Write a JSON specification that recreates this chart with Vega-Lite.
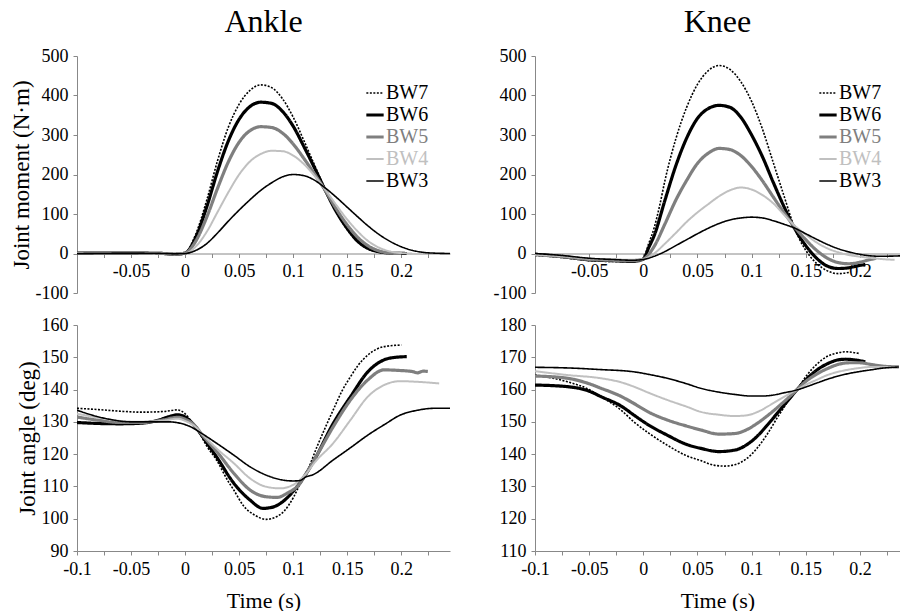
{
  "$schema": "https://vega.github.io/schema/vega-lite/v6.json",
  "background": "white",
  "padding": {"left": 10, "top": 6, "right": 0, "bottom": 0},
  "config": {
    "font": "Liberation Serif",
    "view": {"stroke": null},
    "axis": {"labelFont": "Liberation Serif", "labelFontSize": 18, "labelColor": "black", "titleFont": "Liberation Serif", "titleFontSize": 23, "titleFontWeight": "normal", "titleColor": "black", "domainColor": "#888888", "tickColor": "#888888", "grid": false, "tickSize": 4, "labelPadding": 5, "labelFlush": false, "labelOverlap": false},
    "title": {"font": "Liberation Serif", "fontSize": 32, "fontWeight": "normal", "color": "black", "offset": 8},
    "legend": {"title": null, "labelFont": "Liberation Serif", "labelFontSize": 20, "symbolType": "stroke", "symbolSize": 300, "rowPadding": 2, "labelOffset": 1, "labelColor": {"expr": "datum.label == 'BW5' ? '#7f7f7f' : datum.label == 'BW4' ? '#c0c0c0' : '#000000'"}, "symbolStrokeWidth": {"expr": "datum.label == 'BW6' || datum.label == 'BW5' ? 3.2 : datum.label == 'BW4' ? 2 : 1.6"}}
  },
  "datasets": {
    "am": [
      {"s":"BW7","t":-0.1,"v":2},{"s":"BW7","t":-0.05,"v":2},{"s":"BW7","t":-0.02,"v":1},{"s":"BW7","t":-0.01,"v":-3},{"s":"BW7","t":0,"v":2},{"s":"BW7","t":0.01,"v":50},{"s":"BW7","t":0.02,"v":135},{"s":"BW7","t":0.03,"v":235},{"s":"BW7","t":0.04,"v":320},{"s":"BW7","t":0.05,"v":378},{"s":"BW7","t":0.06,"v":413},{"s":"BW7","t":0.07,"v":427},{"s":"BW7","t":0.08,"v":420},{"s":"BW7","t":0.09,"v":392},{"s":"BW7","t":0.1,"v":345},{"s":"BW7","t":0.11,"v":285},{"s":"BW7","t":0.12,"v":222},{"s":"BW7","t":0.13,"v":160},{"s":"BW7","t":0.14,"v":105},{"s":"BW7","t":0.15,"v":60},{"s":"BW7","t":0.16,"v":28},{"s":"BW7","t":0.17,"v":10},{"s":"BW7","t":0.18,"v":3},{"s":"BW7","t":0.19,"v":0},
      {"s":"BW6","t":-0.1,"v":1},{"s":"BW6","t":-0.05,"v":1},{"s":"BW6","t":-0.02,"v":0},{"s":"BW6","t":-0.01,"v":-2},{"s":"BW6","t":0,"v":1},{"s":"BW6","t":0.01,"v":42},{"s":"BW6","t":0.02,"v":118},{"s":"BW6","t":0.03,"v":208},{"s":"BW6","t":0.04,"v":285},{"s":"BW6","t":0.05,"v":340},{"s":"BW6","t":0.06,"v":372},{"s":"BW6","t":0.07,"v":383},{"s":"BW6","t":0.08,"v":380},{"s":"BW6","t":0.09,"v":360},{"s":"BW6","t":0.1,"v":322},{"s":"BW6","t":0.11,"v":270},{"s":"BW6","t":0.12,"v":215},{"s":"BW6","t":0.13,"v":158},{"s":"BW6","t":0.14,"v":105},{"s":"BW6","t":0.15,"v":63},{"s":"BW6","t":0.16,"v":30},{"s":"BW6","t":0.17,"v":12},{"s":"BW6","t":0.18,"v":4},{"s":"BW6","t":0.19,"v":1},{"s":"BW6","t":0.205,"v":0},
      {"s":"BW5","t":-0.1,"v":1},{"s":"BW5","t":-0.05,"v":1},{"s":"BW5","t":-0.02,"v":0},{"s":"BW5","t":-0.01,"v":-2},{"s":"BW5","t":0,"v":1},{"s":"BW5","t":0.01,"v":32},{"s":"BW5","t":0.02,"v":92},{"s":"BW5","t":0.03,"v":165},{"s":"BW5","t":0.04,"v":232},{"s":"BW5","t":0.05,"v":282},{"s":"BW5","t":0.06,"v":311},{"s":"BW5","t":0.07,"v":321},{"s":"BW5","t":0.08,"v":319},{"s":"BW5","t":0.09,"v":305},{"s":"BW5","t":0.1,"v":277},{"s":"BW5","t":0.11,"v":240},{"s":"BW5","t":0.12,"v":200},{"s":"BW5","t":0.13,"v":158},{"s":"BW5","t":0.14,"v":112},{"s":"BW5","t":0.15,"v":72},{"s":"BW5","t":0.16,"v":40},{"s":"BW5","t":0.17,"v":18},{"s":"BW5","t":0.18,"v":6},{"s":"BW5","t":0.19,"v":1},{"s":"BW5","t":0.2,"v":0},
      {"s":"BW4","t":-0.1,"v":1},{"s":"BW4","t":-0.05,"v":1},{"s":"BW4","t":-0.02,"v":0},{"s":"BW4","t":-0.01,"v":-1},{"s":"BW4","t":0,"v":0},{"s":"BW4","t":0.01,"v":18},{"s":"BW4","t":0.02,"v":55},{"s":"BW4","t":0.03,"v":105},{"s":"BW4","t":0.04,"v":155},{"s":"BW4","t":0.05,"v":200},{"s":"BW4","t":0.06,"v":233},{"s":"BW4","t":0.07,"v":252},{"s":"BW4","t":0.08,"v":260},{"s":"BW4","t":0.09,"v":259},{"s":"BW4","t":0.1,"v":248},{"s":"BW4","t":0.11,"v":226},{"s":"BW4","t":0.12,"v":196},{"s":"BW4","t":0.13,"v":160},{"s":"BW4","t":0.14,"v":122},{"s":"BW4","t":0.15,"v":86},{"s":"BW4","t":0.16,"v":55},{"s":"BW4","t":0.17,"v":30},{"s":"BW4","t":0.18,"v":14},{"s":"BW4","t":0.19,"v":5},{"s":"BW4","t":0.2,"v":1},{"s":"BW4","t":0.21,"v":0},
      {"s":"BW3","t":-0.1,"v":0},{"s":"BW3","t":-0.05,"v":1},{"s":"BW3","t":-0.02,"v":0},{"s":"BW3","t":-0.01,"v":-1},{"s":"BW3","t":0,"v":0},{"s":"BW3","t":0.01,"v":8},{"s":"BW3","t":0.02,"v":25},{"s":"BW3","t":0.03,"v":52},{"s":"BW3","t":0.04,"v":82},{"s":"BW3","t":0.05,"v":110},{"s":"BW3","t":0.06,"v":136},{"s":"BW3","t":0.07,"v":160},{"s":"BW3","t":0.08,"v":179},{"s":"BW3","t":0.09,"v":194},{"s":"BW3","t":0.1,"v":200},{"s":"BW3","t":0.11,"v":197},{"s":"BW3","t":0.12,"v":185},{"s":"BW3","t":0.13,"v":165},{"s":"BW3","t":0.14,"v":142},{"s":"BW3","t":0.15,"v":117},{"s":"BW3","t":0.16,"v":92},{"s":"BW3","t":0.17,"v":68},{"s":"BW3","t":0.18,"v":47},{"s":"BW3","t":0.19,"v":30},{"s":"BW3","t":0.2,"v":17},{"s":"BW3","t":0.21,"v":8},{"s":"BW3","t":0.22,"v":3},{"s":"BW3","t":0.23,"v":1},{"s":"BW3","t":0.245,"v":0}
    ],
    "km": [
      {"s":"BW7","t":-0.1,"v":-5},{"s":"BW7","t":-0.075,"v":-10},{"s":"BW7","t":-0.05,"v":-18},{"s":"BW7","t":-0.03,"v":-20},{"s":"BW7","t":-0.01,"v":-20},{"s":"BW7","t":0,"v":-12},{"s":"BW7","t":0.005,"v":25},{"s":"BW7","t":0.01,"v":65},{"s":"BW7","t":0.015,"v":120},{"s":"BW7","t":0.02,"v":185},{"s":"BW7","t":0.03,"v":290},{"s":"BW7","t":0.04,"v":370},{"s":"BW7","t":0.05,"v":428},{"s":"BW7","t":0.06,"v":463},{"s":"BW7","t":0.07,"v":476},{"s":"BW7","t":0.08,"v":466},{"s":"BW7","t":0.09,"v":435},{"s":"BW7","t":0.1,"v":385},{"s":"BW7","t":0.11,"v":315},{"s":"BW7","t":0.12,"v":230},{"s":"BW7","t":0.13,"v":145},{"s":"BW7","t":0.14,"v":62},{"s":"BW7","t":0.15,"v":8},{"s":"BW7","t":0.16,"v":-25},{"s":"BW7","t":0.17,"v":-44},{"s":"BW7","t":0.18,"v":-51},{"s":"BW7","t":0.19,"v":-48},
      {"s":"BW6","t":-0.1,"v":-2},{"s":"BW6","t":-0.075,"v":-8},{"s":"BW6","t":-0.05,"v":-16},{"s":"BW6","t":-0.03,"v":-18},{"s":"BW6","t":-0.01,"v":-20},{"s":"BW6","t":0,"v":-14},{"s":"BW6","t":0.005,"v":15},{"s":"BW6","t":0.01,"v":45},{"s":"BW6","t":0.02,"v":135},{"s":"BW6","t":0.03,"v":222},{"s":"BW6","t":0.04,"v":292},{"s":"BW6","t":0.05,"v":342},{"s":"BW6","t":0.06,"v":367},{"s":"BW6","t":0.07,"v":375},{"s":"BW6","t":0.08,"v":370},{"s":"BW6","t":0.09,"v":345},{"s":"BW6","t":0.1,"v":300},{"s":"BW6","t":0.11,"v":245},{"s":"BW6","t":0.12,"v":180},{"s":"BW6","t":0.13,"v":118},{"s":"BW6","t":0.14,"v":62},{"s":"BW6","t":0.15,"v":20},{"s":"BW6","t":0.16,"v":-12},{"s":"BW6","t":0.17,"v":-32},{"s":"BW6","t":0.18,"v":-38},{"s":"BW6","t":0.19,"v":-36},{"s":"BW6","t":0.2,"v":-30},{"s":"BW6","t":0.205,"v":-28},
      {"s":"BW5","t":-0.1,"v":-3},{"s":"BW5","t":-0.075,"v":-8},{"s":"BW5","t":-0.05,"v":-15},{"s":"BW5","t":-0.03,"v":-17},{"s":"BW5","t":-0.01,"v":-18},{"s":"BW5","t":0,"v":-14},{"s":"BW5","t":0.01,"v":18},{"s":"BW5","t":0.02,"v":75},{"s":"BW5","t":0.03,"v":135},{"s":"BW5","t":0.04,"v":185},{"s":"BW5","t":0.05,"v":228},{"s":"BW5","t":0.06,"v":254},{"s":"BW5","t":0.07,"v":266},{"s":"BW5","t":0.08,"v":263},{"s":"BW5","t":0.09,"v":248},{"s":"BW5","t":0.1,"v":220},{"s":"BW5","t":0.11,"v":184},{"s":"BW5","t":0.12,"v":143},{"s":"BW5","t":0.13,"v":103},{"s":"BW5","t":0.14,"v":66},{"s":"BW5","t":0.15,"v":35},{"s":"BW5","t":0.16,"v":8},{"s":"BW5","t":0.17,"v":-12},{"s":"BW5","t":0.18,"v":-23},{"s":"BW5","t":0.19,"v":-26},{"s":"BW5","t":0.2,"v":-22},{"s":"BW5","t":0.21,"v":-15},{"s":"BW5","t":0.215,"v":-12},
      {"s":"BW4","t":-0.1,"v":-3},{"s":"BW4","t":-0.075,"v":-7},{"s":"BW4","t":-0.05,"v":-13},{"s":"BW4","t":-0.03,"v":-15},{"s":"BW4","t":-0.01,"v":-16},{"s":"BW4","t":0,"v":-14},{"s":"BW4","t":0.01,"v":0},{"s":"BW4","t":0.02,"v":25},{"s":"BW4","t":0.03,"v":52},{"s":"BW4","t":0.04,"v":80},{"s":"BW4","t":0.05,"v":104},{"s":"BW4","t":0.06,"v":125},{"s":"BW4","t":0.07,"v":145},{"s":"BW4","t":0.08,"v":160},{"s":"BW4","t":0.09,"v":167},{"s":"BW4","t":0.1,"v":162},{"s":"BW4","t":0.11,"v":148},{"s":"BW4","t":0.12,"v":127},{"s":"BW4","t":0.13,"v":98},{"s":"BW4","t":0.14,"v":70},{"s":"BW4","t":0.15,"v":48},{"s":"BW4","t":0.16,"v":28},{"s":"BW4","t":0.17,"v":13},{"s":"BW4","t":0.18,"v":3},{"s":"BW4","t":0.19,"v":-4},{"s":"BW4","t":0.2,"v":-8},{"s":"BW4","t":0.21,"v":-11},{"s":"BW4","t":0.22,"v":-14},{"s":"BW4","t":0.232,"v":-16},
      {"s":"BW3","t":-0.1,"v":0},{"s":"BW3","t":-0.075,"v":-5},{"s":"BW3","t":-0.05,"v":-12},{"s":"BW3","t":-0.03,"v":-15},{"s":"BW3","t":-0.01,"v":-17},{"s":"BW3","t":0,"v":-15},{"s":"BW3","t":0.01,"v":-7},{"s":"BW3","t":0.02,"v":5},{"s":"BW3","t":0.03,"v":20},{"s":"BW3","t":0.04,"v":35},{"s":"BW3","t":0.05,"v":50},{"s":"BW3","t":0.06,"v":64},{"s":"BW3","t":0.07,"v":76},{"s":"BW3","t":0.08,"v":85},{"s":"BW3","t":0.09,"v":90},{"s":"BW3","t":0.1,"v":92},{"s":"BW3","t":0.11,"v":90},{"s":"BW3","t":0.12,"v":83},{"s":"BW3","t":0.13,"v":74},{"s":"BW3","t":0.14,"v":64},{"s":"BW3","t":0.15,"v":50},{"s":"BW3","t":0.16,"v":36},{"s":"BW3","t":0.17,"v":23},{"s":"BW3","t":0.18,"v":12},{"s":"BW3","t":0.19,"v":4},{"s":"BW3","t":0.2,"v":-2},{"s":"BW3","t":0.21,"v":-6},{"s":"BW3","t":0.22,"v":-7},{"s":"BW3","t":0.237,"v":-6}
    ],
    "aa": [
      {"s":"BW7","t":-0.1,"v":134.2},{"s":"BW7","t":-0.08,"v":133.8},{"s":"BW7","t":-0.06,"v":133.3},{"s":"BW7","t":-0.04,"v":133},{"s":"BW7","t":-0.02,"v":133.2},{"s":"BW7","t":-0.007,"v":133.7},{"s":"BW7","t":0,"v":132.5},{"s":"BW7","t":0.007,"v":129.5},{"s":"BW7","t":0.015,"v":125.5},{"s":"BW7","t":0.02,"v":122.5},{"s":"BW7","t":0.029,"v":118.2},{"s":"BW7","t":0.04,"v":111.5},{"s":"BW7","t":0.045,"v":108.9},{"s":"BW7","t":0.054,"v":104},{"s":"BW7","t":0.065,"v":101},{"s":"BW7","t":0.075,"v":99.8},{"s":"BW7","t":0.085,"v":100.7},{"s":"BW7","t":0.092,"v":102.5},{"s":"BW7","t":0.1,"v":106.5},{"s":"BW7","t":0.106,"v":110.5},{"s":"BW7","t":0.112,"v":114},{"s":"BW7","t":0.122,"v":122.3},{"s":"BW7","t":0.13,"v":128.5},{"s":"BW7","t":0.137,"v":133.7},{"s":"BW7","t":0.145,"v":139.5},{"s":"BW7","t":0.153,"v":144},{"s":"BW7","t":0.16,"v":147.5},{"s":"BW7","t":0.169,"v":150.7},{"s":"BW7","t":0.177,"v":152.5},{"s":"BW7","t":0.184,"v":153.3},{"s":"BW7","t":0.2,"v":153.8},
      {"s":"BW6","t":-0.1,"v":129.8},{"s":"BW6","t":-0.08,"v":129.5},{"s":"BW6","t":-0.06,"v":129.4},{"s":"BW6","t":-0.04,"v":129.6},{"s":"BW6","t":-0.025,"v":130.5},{"s":"BW6","t":-0.015,"v":131.6},{"s":"BW6","t":-0.007,"v":132.2},{"s":"BW6","t":0,"v":131.5},{"s":"BW6","t":0.007,"v":129.5},{"s":"BW6","t":0.015,"v":126},{"s":"BW6","t":0.02,"v":123.5},{"s":"BW6","t":0.029,"v":119.2},{"s":"BW6","t":0.045,"v":111},{"s":"BW6","t":0.06,"v":105.8},{"s":"BW6","t":0.072,"v":103.2},{"s":"BW6","t":0.08,"v":103.5},{"s":"BW6","t":0.09,"v":105.2},{"s":"BW6","t":0.1,"v":108.5},{"s":"BW6","t":0.112,"v":114},{"s":"BW6","t":0.12,"v":118.5},{"s":"BW6","t":0.137,"v":129.5},{"s":"BW6","t":0.153,"v":137.8},{"s":"BW6","t":0.169,"v":145.5},{"s":"BW6","t":0.184,"v":149.2},{"s":"BW6","t":0.195,"v":150},{"s":"BW6","t":0.205,"v":150.2},
      {"s":"BW5","t":-0.1,"v":131.5},{"s":"BW5","t":-0.08,"v":130.5},{"s":"BW5","t":-0.06,"v":129.8},{"s":"BW5","t":-0.04,"v":129.8},{"s":"BW5","t":-0.02,"v":130.6},{"s":"BW5","t":-0.007,"v":131.4},{"s":"BW5","t":0,"v":130.8},{"s":"BW5","t":0.01,"v":128.5},{"s":"BW5","t":0.015,"v":126.3},{"s":"BW5","t":0.03,"v":120.5},{"s":"BW5","t":0.045,"v":114.1},{"s":"BW5","t":0.06,"v":108.9},{"s":"BW5","t":0.075,"v":106.8},{"s":"BW5","t":0.085,"v":106.6},{"s":"BW5","t":0.095,"v":108},{"s":"BW5","t":0.106,"v":110.8},{"s":"BW5","t":0.112,"v":114},{"s":"BW5","t":0.12,"v":118.5},{"s":"BW5","t":0.137,"v":128.5},{"s":"BW5","t":0.153,"v":136.8},{"s":"BW5","t":0.169,"v":143},{"s":"BW5","t":0.184,"v":146.1},{"s":"BW5","t":0.199,"v":145.9},{"s":"BW5","t":0.21,"v":145.6},{"s":"BW5","t":0.215,"v":145.2},{"s":"BW5","t":0.22,"v":145.7},{"s":"BW5","t":0.2245,"v":145.6},
      {"s":"BW4","t":-0.1,"v":132.5},{"s":"BW4","t":-0.08,"v":131.3},{"s":"BW4","t":-0.06,"v":130.3},{"s":"BW4","t":-0.04,"v":130},{"s":"BW4","t":-0.02,"v":130.4},{"s":"BW4","t":-0.007,"v":131},{"s":"BW4","t":0,"v":130.3},{"s":"BW4","t":0.01,"v":128.3},{"s":"BW4","t":0.015,"v":126.5},{"s":"BW4","t":0.03,"v":121.5},{"s":"BW4","t":0.045,"v":117.2},{"s":"BW4","t":0.06,"v":112.5},{"s":"BW4","t":0.075,"v":109.9},{"s":"BW4","t":0.088,"v":109.4},{"s":"BW4","t":0.1,"v":110.5},{"s":"BW4","t":0.112,"v":114},{"s":"BW4","t":0.12,"v":117.5},{"s":"BW4","t":0.137,"v":123.4},{"s":"BW4","t":0.153,"v":130.6},{"s":"BW4","t":0.169,"v":137.8},{"s":"BW4","t":0.184,"v":141.4},{"s":"BW4","t":0.199,"v":142.6},{"s":"BW4","t":0.215,"v":142.4},{"s":"BW4","t":0.235,"v":141.9},
      {"s":"BW3","t":-0.1,"v":133.6},{"s":"BW3","t":-0.085,"v":132},{"s":"BW3","t":-0.07,"v":130.8},{"s":"BW3","t":-0.05,"v":130},{"s":"BW3","t":-0.03,"v":130},{"s":"BW3","t":-0.015,"v":130},{"s":"BW3","t":-0.005,"v":129.6},{"s":"BW3","t":0.005,"v":128.5},{"s":"BW3","t":0.015,"v":126.5},{"s":"BW3","t":0.029,"v":123.4},{"s":"BW3","t":0.045,"v":119.7},{"s":"BW3","t":0.06,"v":116.1},{"s":"BW3","t":0.075,"v":113.5},{"s":"BW3","t":0.09,"v":112},{"s":"BW3","t":0.1,"v":111.7},{"s":"BW3","t":0.106,"v":111.8},{"s":"BW3","t":0.112,"v":113},{"s":"BW3","t":0.118,"v":113.6},{"s":"BW3","t":0.137,"v":118.2},{"s":"BW3","t":0.153,"v":122},{"s":"BW3","t":0.169,"v":125.9},{"s":"BW3","t":0.185,"v":129.3},{"s":"BW3","t":0.199,"v":132.1},{"s":"BW3","t":0.215,"v":133.6},{"s":"BW3","t":0.23,"v":134.2},{"s":"BW3","t":0.245,"v":134.2}
    ],
    "ka": [
      {"s":"BW7","t":-0.1,"v":164.5},{"s":"BW7","t":-0.07,"v":162.4},{"s":"BW7","t":-0.05,"v":160},{"s":"BW7","t":-0.039,"v":157.8},{"s":"BW7","t":-0.02,"v":153.5},{"s":"BW7","t":-0.0087,"v":150},{"s":"BW7","t":0.005,"v":146.5},{"s":"BW7","t":0.022,"v":142.8},{"s":"BW7","t":0.04,"v":139.5},{"s":"BW7","t":0.053,"v":138},{"s":"BW7","t":0.065,"v":136.6},{"s":"BW7","t":0.075,"v":136.3},{"s":"BW7","t":0.085,"v":136.8},{"s":"BW7","t":0.095,"v":138.5},{"s":"BW7","t":0.105,"v":141.8},{"s":"BW7","t":0.115,"v":146.5},{"s":"BW7","t":0.125,"v":152},{"s":"BW7","t":0.135,"v":157},{"s":"BW7","t":0.142,"v":160},{"s":"BW7","t":0.15,"v":164},{"s":"BW7","t":0.16,"v":167.8},{"s":"BW7","t":0.17,"v":170.3},{"s":"BW7","t":0.18,"v":171.4},{"s":"BW7","t":0.187,"v":171.7},{"s":"BW7","t":0.199,"v":171.2},
      {"s":"BW6","t":-0.1,"v":161.4},{"s":"BW6","t":-0.07,"v":160.9},{"s":"BW6","t":-0.05,"v":159.5},{"s":"BW6","t":-0.039,"v":157.8},{"s":"BW6","t":-0.02,"v":154.8},{"s":"BW6","t":-0.0087,"v":152.1},{"s":"BW6","t":0.005,"v":149},{"s":"BW6","t":0.022,"v":145.9},{"s":"BW6","t":0.04,"v":143},{"s":"BW6","t":0.053,"v":141.8},{"s":"BW6","t":0.07,"v":140.8},{"s":"BW6","t":0.085,"v":141.3},{"s":"BW6","t":0.095,"v":142.8},{"s":"BW6","t":0.105,"v":145.5},{"s":"BW6","t":0.115,"v":149.2},{"s":"BW6","t":0.125,"v":153.2},{"s":"BW6","t":0.135,"v":157.2},{"s":"BW6","t":0.142,"v":160},{"s":"BW6","t":0.15,"v":163},{"s":"BW6","t":0.16,"v":166},{"s":"BW6","t":0.17,"v":168},{"s":"BW6","t":0.18,"v":169.2},{"s":"BW6","t":0.187,"v":169.4},{"s":"BW6","t":0.197,"v":169.1},{"s":"BW6","t":0.205,"v":168.6},
      {"s":"BW5","t":-0.1,"v":164.2},{"s":"BW5","t":-0.07,"v":163.5},{"s":"BW5","t":-0.05,"v":161.8},{"s":"BW5","t":-0.039,"v":160.4},{"s":"BW5","t":-0.02,"v":157.8},{"s":"BW5","t":-0.0087,"v":155.7},{"s":"BW5","t":0.005,"v":153},{"s":"BW5","t":0.022,"v":150.6},{"s":"BW5","t":0.04,"v":148.7},{"s":"BW5","t":0.053,"v":147.5},{"s":"BW5","t":0.07,"v":146.2},{"s":"BW5","t":0.085,"v":146.4},{"s":"BW5","t":0.095,"v":147.5},{"s":"BW5","t":0.105,"v":149.5},{"s":"BW5","t":0.115,"v":152},{"s":"BW5","t":0.125,"v":154.8},{"s":"BW5","t":0.135,"v":157.8},{"s":"BW5","t":0.142,"v":160},{"s":"BW5","t":0.15,"v":162.5},{"s":"BW5","t":0.16,"v":164.8},{"s":"BW5","t":0.17,"v":166.5},{"s":"BW5","t":0.18,"v":167.8},{"s":"BW5","t":0.19,"v":168.3},{"s":"BW5","t":0.2,"v":168.3},{"s":"BW5","t":0.21,"v":167.8},{"s":"BW5","t":0.22,"v":167.3},{"s":"BW5","t":0.236,"v":167},
      {"s":"BW4","t":-0.1,"v":165.7},{"s":"BW4","t":-0.07,"v":164.5},{"s":"BW4","t":-0.039,"v":163.5},{"s":"BW4","t":-0.02,"v":162.2},{"s":"BW4","t":-0.0087,"v":160.9},{"s":"BW4","t":0.005,"v":159},{"s":"BW4","t":0.022,"v":156.8},{"s":"BW4","t":0.04,"v":154.7},{"s":"BW4","t":0.053,"v":153.1},{"s":"BW4","t":0.07,"v":152.2},{"s":"BW4","t":0.084,"v":151.8},{"s":"BW4","t":0.095,"v":152},{"s":"BW4","t":0.105,"v":153},{"s":"BW4","t":0.115,"v":154.8},{"s":"BW4","t":0.125,"v":156.8},{"s":"BW4","t":0.135,"v":158.7},{"s":"BW4","t":0.142,"v":160},{"s":"BW4","t":0.15,"v":161.5},{"s":"BW4","t":0.16,"v":163},{"s":"BW4","t":0.17,"v":164.5},{"s":"BW4","t":0.18,"v":165.5},{"s":"BW4","t":0.19,"v":166.2},{"s":"BW4","t":0.2,"v":166.7},{"s":"BW4","t":0.21,"v":167},{"s":"BW4","t":0.236,"v":167},
      {"s":"BW3","t":-0.1,"v":166.9},{"s":"BW3","t":-0.07,"v":166.7},{"s":"BW3","t":-0.04,"v":166.2},{"s":"BW3","t":-0.0087,"v":165.5},{"s":"BW3","t":0.005,"v":164.7},{"s":"BW3","t":0.022,"v":163.5},{"s":"BW3","t":0.04,"v":161.8},{"s":"BW3","t":0.053,"v":160.4},{"s":"BW3","t":0.07,"v":159.2},{"s":"BW3","t":0.084,"v":158.5},{"s":"BW3","t":0.1,"v":158},{"s":"BW3","t":0.11,"v":158},{"s":"BW3","t":0.12,"v":158.3},{"s":"BW3","t":0.13,"v":159},{"s":"BW3","t":0.142,"v":159.9},{"s":"BW3","t":0.15,"v":160.8},{"s":"BW3","t":0.16,"v":162},{"s":"BW3","t":0.17,"v":163.2},{"s":"BW3","t":0.18,"v":164.2},{"s":"BW3","t":0.19,"v":165},{"s":"BW3","t":0.2,"v":165.6},{"s":"BW3","t":0.21,"v":166.1},{"s":"BW3","t":0.22,"v":166.6},{"s":"BW3","t":0.236,"v":167}
    ]
  },
  "columns": 2,
  "spacing": {"row": 14, "column": 43},
  "resolve": {
    "scale": {"x": "independent", "y": "independent", "color": "independent", "strokeDash": "independent"},
    "legend": {"color": "independent", "strokeDash": "independent"},
    "axis": {"x": "independent", "y": "independent"}
  },
  "concat": [
    {
      "title": {"text": "Ankle"},
      "width": 373, "height": 237,
      "data": {"name": "am"},
      "mark": {"type": "line", "interpolate": "monotone", "clip": true},
      "encoding": {
        "x": {"field": "t", "type": "quantitative", "scale": {"domain": [-0.1, 0.245], "nice": false, "zero": false},
          "axis": {"title": null, "offset": -39.5, "values": [-0.1,-0.075,-0.05,-0.025,0,0.025,0.05,0.075,0.1,0.125,0.15,0.175,0.2,0.225], "labelExpr": "datum.value > -0.09 && abs(round(datum.value*1000)) % 50 == 0 ? replace(format(datum.value, '~g'), '\u2212', '-') : ''"}},
        "y": {"field": "v", "type": "quantitative", "scale": {"domain": [-100, 500], "nice": false},
          "axis": {"title": "Joint moment (N·m)", "titlePadding": 2, "values": [-100,0,100,200,300,400,500], "labelExpr": "replace(datum.label, '\u2212', '-')"}},
        "color": {"field": "s", "type": "nominal", "scale": {"domain": ["BW7","BW6","BW5","BW4","BW3"], "range": ["#000000","#000000","#7f7f7f","#c0c0c0","#000000"]}, "legend": {"orient": "none", "legendX": 288, "legendY": 27}},
        "strokeDash": {"field": "s", "type": "nominal", "scale": {"domain": ["BW7","BW6","BW5","BW4","BW3"], "range": [[2,1.5],[1,0],[1,0],[1,0],[1,0]]}},
        "strokeWidth": {"condition": [{"test": "datum.s == 'BW6' || datum.s == 'BW5'", "value": 3.2}, {"test": "datum.s == 'BW4'", "value": 2}], "value": 1.6}
      }
    },
    {
      "title": {"text": "Knee"},
      "width": 365, "height": 237,
      "data": {"name": "km"},
      "mark": {"type": "line", "interpolate": "monotone", "clip": true},
      "encoding": {
        "x": {"field": "t", "type": "quantitative", "scale": {"domain": [-0.1, 0.237], "nice": false, "zero": false},
          "axis": {"title": null, "offset": -39.5, "values": [-0.1,-0.075,-0.05,-0.025,0,0.025,0.05,0.075,0.1,0.125,0.15,0.175,0.2,0.225], "labelExpr": "datum.value > -0.09 && abs(round(datum.value*1000)) % 50 == 0 ? replace(format(datum.value, '~g'), '\u2212', '-') : ''"}},
        "y": {"field": "v", "type": "quantitative", "scale": {"domain": [-100, 500], "nice": false},
          "axis": {"title": null, "values": [-100,0,100,200,300,400,500], "labelExpr": "replace(datum.label, '\u2212', '-')"}},
        "color": {"field": "s", "type": "nominal", "scale": {"domain": ["BW7","BW6","BW5","BW4","BW3"], "range": ["#000000","#000000","#7f7f7f","#c0c0c0","#000000"]}, "legend": {"orient": "none", "legendX": 283, "legendY": 27}},
        "strokeDash": {"field": "s", "type": "nominal", "scale": {"domain": ["BW7","BW6","BW5","BW4","BW3"], "range": [[2,1.5],[1,0],[1,0],[1,0],[1,0]]}},
        "strokeWidth": {"condition": [{"test": "datum.s == 'BW6' || datum.s == 'BW5'", "value": 3.2}, {"test": "datum.s == 'BW4'", "value": 2}], "value": 1.6}
      }
    },
    {
      "width": 373, "height": 226,
      "data": {"name": "aa"},
      "mark": {"type": "line", "interpolate": "monotone", "clip": true},
      "encoding": {
        "x": {"field": "t", "type": "quantitative", "scale": {"domain": [-0.1, 0.245], "nice": false, "zero": false},
          "axis": {"title": "Time (s)", "titleFontSize": 22, "titlePadding": 12, "values": [-0.1,-0.075,-0.05,-0.025,0,0.025,0.05,0.075,0.1,0.125,0.15,0.175,0.2,0.225], "labelExpr": "abs(round(datum.value*1000)) % 50 == 0 ? replace(format(datum.value, '~g'), '\u2212', '-') : ''"}},
        "y": {"field": "v", "type": "quantitative", "scale": {"domain": [90, 160], "nice": false, "zero": false},
          "axis": {"title": "Joint angle (deg)", "titlePadding": 2, "values": [90,100,110,120,130,140,150,160]}},
        "color": {"field": "s", "type": "nominal", "scale": {"domain": ["BW7","BW6","BW5","BW4","BW3"], "range": ["#000000","#000000","#7f7f7f","#c0c0c0","#000000"]}, "legend": null},
        "strokeDash": {"field": "s", "type": "nominal", "scale": {"domain": ["BW7","BW6","BW5","BW4","BW3"], "range": [[2,1.5],[1,0],[1,0],[1,0],[1,0]]}, "legend": null},
        "strokeWidth": {"condition": [{"test": "datum.s == 'BW6' || datum.s == 'BW5'", "value": 3.2}, {"test": "datum.s == 'BW4'", "value": 2}], "value": 1.6}
      }
    },
    {
      "width": 365, "height": 226,
      "data": {"name": "ka"},
      "mark": {"type": "line", "interpolate": "monotone", "clip": true},
      "encoding": {
        "x": {"field": "t", "type": "quantitative", "scale": {"domain": [-0.1, 0.237], "nice": false, "zero": false},
          "axis": {"title": "Time (s)", "titleFontSize": 22, "titlePadding": 12, "values": [-0.1,-0.075,-0.05,-0.025,0,0.025,0.05,0.075,0.1,0.125,0.15,0.175,0.2,0.225], "labelExpr": "abs(round(datum.value*1000)) % 50 == 0 ? replace(format(datum.value, '~g'), '\u2212', '-') : ''"}},
        "y": {"field": "v", "type": "quantitative", "scale": {"domain": [110, 180], "nice": false, "zero": false},
          "axis": {"title": null, "values": [110,120,130,140,150,160,170,180]}},
        "color": {"field": "s", "type": "nominal", "scale": {"domain": ["BW7","BW6","BW5","BW4","BW3"], "range": ["#000000","#000000","#7f7f7f","#c0c0c0","#000000"]}, "legend": null},
        "strokeDash": {"field": "s", "type": "nominal", "scale": {"domain": ["BW7","BW6","BW5","BW4","BW3"], "range": [[2,1.5],[1,0],[1,0],[1,0],[1,0]]}, "legend": null},
        "strokeWidth": {"condition": [{"test": "datum.s == 'BW6' || datum.s == 'BW5'", "value": 3.2}, {"test": "datum.s == 'BW4'", "value": 2}], "value": 1.6}
      }
    }
  ]
}
